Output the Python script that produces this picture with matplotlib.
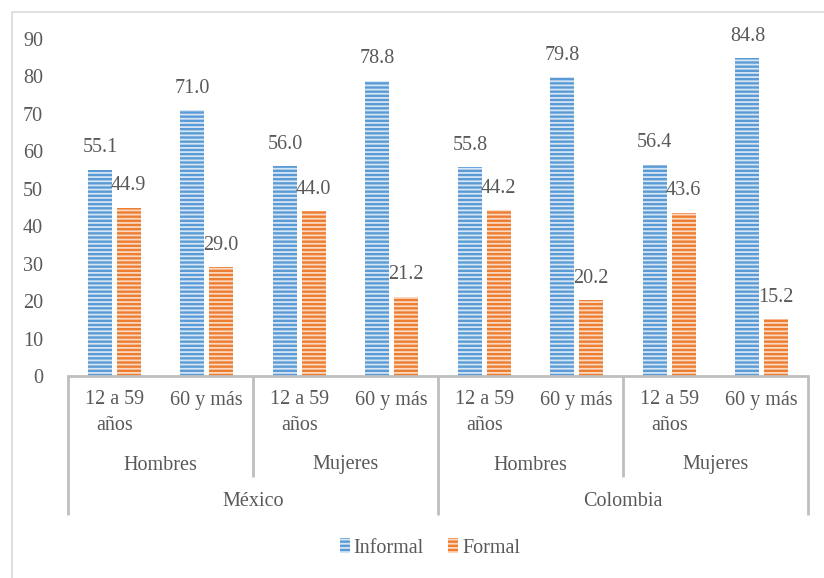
import numpy as np
import matplotlib.pyplot as plt
from matplotlib.patches import Rectangle
import matplotlib.transforms as mtransforms

plt.rcParams['font.family'] = ['Liberation Serif', 'DejaVu Serif']
plt.rcParams['hatch.linewidth'] = 1.3

# datos
edades = ['12 a 59\naños', '60 y más', '12 a 59\naños', '60 y más',
          '12 a 59\naños', '60 y más', '12 a 59\naños', '60 y más']
sexos = ['Hombres', 'Mujeres', 'Hombres', 'Mujeres']
paises = ['México', 'Colombia']
informal = [55.1, 71.0, 56.0, 78.8, 55.8, 79.8, 56.4, 84.8]
formal = [44.9, 29.0, 44.0, 21.2, 44.2, 20.2, 43.6, 15.2]

gris_txt = '#595959'
gris_eje = '#bfbfbf'
azul = '#5b9bd5'
naranja = '#ed7d31'

fig = plt.figure(figsize=(8.24, 5.78), dpi=100)
ax = fig.add_axes([68 / 824, 1 - 376 / 578, 740 / 824, 337 / 578])

x = np.arange(len(informal))
w = 0.26
b1 = ax.bar(x - 0.155, informal, w, color=azul, edgecolor='#d6e6f5',
            linewidth=0, hatch='----', label='Informal')
b2 = ax.bar(x + 0.155, formal, w, color=naranja, edgecolor='#fbd9c2',
            linewidth=0, hatch='----', label='Formal')

for bars, vals in ((b1, informal), (b2, formal)):
    for r, v in zip(bars, vals):
        ax.annotate(f'{v:.1f}', (r.get_x() + r.get_width() / 2, v),
                    xytext=(0, 22), textcoords='offset pixels',
                    ha='center', va='center', fontsize=14.5, color=gris_txt)

ax.set_xlim(-0.5, 7.5)
ax.set_ylim(0, 90)
ax.set_yticks(range(0, 91, 10))
ax.tick_params(axis='y', length=0, pad=18, labelsize=14.5, labelcolor=gris_txt)
ax.set_xticks([])
for s in ['top', 'right', 'left']:
    ax.spines[s].set_visible(False)
ax.spines['bottom'].set_color(gris_eje)
ax.spines['bottom'].set_linewidth(2)

# etiquetas jerárquicas del eje x
tr = mtransforms.blended_transform_factory(ax.transData, ax.transAxes)
px = lambda ypix: (376 - ypix) / 337
for i, lab in enumerate(edades):
    partes = lab.split('\n')
    ax.text(i, px(400), partes[0], transform=tr, ha='center', va='center',
            fontsize=14.5, color=gris_txt)
    if len(partes) > 1:
        ax.text(i, px(425), partes[1], transform=tr, ha='center', va='center',
                fontsize=14.5, color=gris_txt)
for j, lab in enumerate(sexos):
    ax.text(2 * j + 0.5, px(465), lab, transform=tr, ha='center', va='center',
            fontsize=14.5, color=gris_txt)
for k, lab in enumerate(paises):
    ax.text(4 * k + 1.5, px(502), lab, transform=tr, ha='center', va='center',
            fontsize=14.5, color=gris_txt)

for xs in [-0.5, 3.5, 7.5]:
    ax.plot([xs, xs], [0, px(515)], transform=tr, color=gris_eje, lw=2,
            clip_on=False, solid_capstyle='butt')
for xs in [1.5, 5.5]:
    ax.plot([xs, xs], [0, px(477)], transform=tr, color=gris_eje, lw=2,
            clip_on=False, solid_capstyle='butt')

# marco de la figura
fig.patches.append(Rectangle((12 / 824, -0.1), 1.2, 1 - 12 / 578 + 0.1,
                             transform=fig.transFigure, fill=False,
                             edgecolor='#d9d9d9', lw=1.2))

fig.legend(handles=[b1, b2], loc='center', bbox_to_anchor=(430 / 824, 1 - 548 / 578),
           ncol=2, frameon=False, fontsize=14.5, labelcolor=gris_txt,
           handlelength=0.5, handleheight=0.7, handletextpad=0.2, columnspacing=1.2)

fig.savefig('out.png', dpi=100)
